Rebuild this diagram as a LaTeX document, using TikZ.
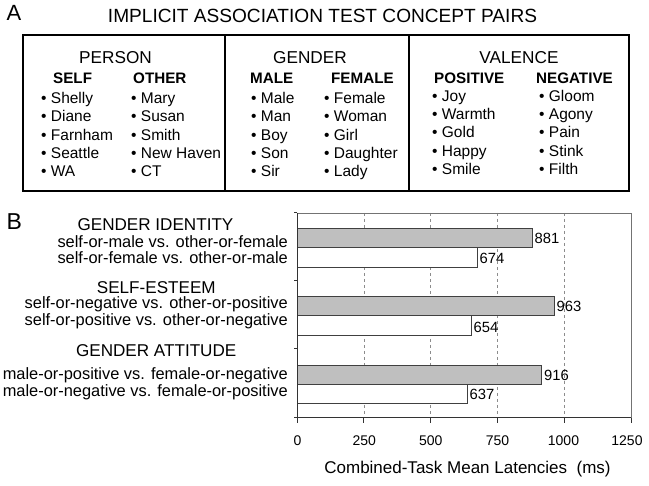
\documentclass[tikz,border=0pt]{standalone}
\usepackage{fontspec}
\setmainfont{Liberation Sans}
\usetikzlibrary{calc}
\def\fsz#1{\fontsize{#1}{#1}\selectfont}
\tikzset{
	txt/.style={inner sep=0pt, anchor=base west},
	ctxt/.style={inner sep=0pt, anchor=base},
	rtxt/.style={inner sep=0pt, anchor=base east},
	catname/.style={ctxt, font=\fsz{17.2}},
	colhead/.style={txt, font=\fsz{15.2}\bfseries},
	item/.style={txt, font=\fsz{15.5}},
	grouptitle/.style={ctxt, font=\fsz{17.1}},
	sublabel/.style={rtxt, font=\fsz{16.4}},
	barval/.style={inner sep=0pt, anchor=west, font=\fsz{14.8}},
	ticklabel/.style={inner sep=0pt, anchor=base, font=\fsz{14}},
	greybar/.style={draw=black!75, line width=0.8pt, fill=black!25},
	whitebar/.style={draw=black!75, line width=0.8pt, fill=white},
}

\begin{document}
\begin{tikzpicture}[x=1pt, y=-1pt]
			%%%%% START %%%%%
			\useasboundingbox (0, 0) rectangle (649, 486);
			
			% panel A
			\node[txt, font=\fsz{22}] (labelA) at (6.5, 21) {A};
			\node[ctxt, font=\fsz{19.1}] (titleA) at (322.5, 22.7) {IMPLICIT ASSOCIATION TEST CONCEPT PAIRS};
			
			\draw[line width=1.3pt] (23, 35) rectangle (629, 191);
			\draw[line width=1.3pt] (225, 35) -- (225, 191);
			\draw[line width=1.3pt] (409, 35) -- (409, 191);
			
			\node[catname] (person) at (115.5, 63.3) {PERSON};
			\node[catname] (gender) at (310, 63.3) {GENDER};
			\node[catname] (valence) at (519, 63.3) {VALENCE};
			
			\node[colhead] (self) at (53, 83.3) {SELF};
			\node[colhead] (other) at (133, 83.3) {OTHER};
			\node[colhead] (male) at (250, 83.3) {MALE};
			\node[colhead] (female) at (331, 83.3) {FEMALE};
			\node[colhead] (positive) at (434, 83.3) {POSITIVE};
			\node[colhead] (negative) at (536, 83.3) {NEGATIVE};
			
			\node[item] (self1) at (41, 104) {\textbullet\ Shelly};
			\node[item] (self2) at (41, 122) {\textbullet\ Diane};
			\node[item] (self3) at (41, 140.3) {\textbullet\ Farnham};
			\node[item] (self4) at (41, 158.5) {\textbullet\ Seattle};
			\node[item] (self5) at (41, 176.8) {\textbullet\ WA};
			
			\node[item] (other1) at (131, 104) {\textbullet\ Mary};
			\node[item] (other2) at (131, 122) {\textbullet\ Susan};
			\node[item] (other3) at (131, 140.3) {\textbullet\ Smith};
			\node[item] (other4) at (131, 158.5) {\textbullet\ New Haven};
			\node[item] (other5) at (131, 176.8) {\textbullet\ CT};
			
			\node[item] (male1) at (251, 104) {\textbullet\ Male};
			\node[item] (male2) at (251, 122) {\textbullet\ Man};
			\node[item] (male3) at (251, 140.3) {\textbullet\ Boy};
			\node[item] (male4) at (251, 158.5) {\textbullet\ Son};
			\node[item] (male5) at (251, 176.8) {\textbullet\ Sir};
			
			\node[item] (female1) at (324, 104) {\textbullet\ Female};
			\node[item] (female2) at (324, 122) {\textbullet\ Woman};
			\node[item] (female3) at (324, 140.3) {\textbullet\ Girl};
			\node[item] (female4) at (324, 158.5) {\textbullet\ Daughter};
			\node[item] (female5) at (324, 176.8) {\textbullet\ Lady};
			
			\node[item] (positive1) at (432, 101.5) {\textbullet\ Joy};
			\node[item] (positive2) at (432, 119.8) {\textbullet\ Warmth};
			\node[item] (positive3) at (432, 138) {\textbullet\ Gold};
			\node[item] (positive4) at (432, 156.5) {\textbullet\ Happy};
			\node[item] (positive5) at (432, 175) {\textbullet\ Smile};
			
			\node[item] (negative1) at (539, 101.5) {\textbullet\ Gloom};
			\node[item] (negative2) at (539, 119.8) {\textbullet\ Agony};
			\node[item] (negative3) at (539, 138) {\textbullet\ Pain};
			\node[item] (negative4) at (539, 156.5) {\textbullet\ Stink};
			\node[item] (negative5) at (539, 175) {\textbullet\ Filth};
			
			% panel B
			\node[txt, font=\fsz{23}] (labelB) at (6.5, 229.3) {B};
			
			\node[grouptitle] (identity) at (155.5, 231) {GENDER IDENTITY};
			\node[sublabel] (identity1) at (288, 247.3) {self-or-male vs. other-or-female};
			\node[sublabel] (identity2) at (288, 264) {self-or-female vs. other-or-male};
			
			\node[grouptitle] (esteem) at (156.3, 293.3) {SELF-ESTEEM};
			\node[sublabel] (esteem1) at (288, 308.5) {self-or-negative vs. other-or-positive};
			\node[sublabel] (esteem2) at (288, 325.5) {self-or-positive vs. other-or-negative};
			
			\node[grouptitle] (attitude) at (156.2, 356.7) {GENDER ATTITUDE};
			\node[sublabel] (attitude1) at (288, 380) {male-or-positive vs. female-or-negative};
			\node[sublabel] (attitude2) at (288, 396.7) {male-or-negative vs. female-or-positive};
			
			% grid
			\draw[line width=0.6pt, color=black!45, dashed] (363.8, 213) -- (363.8, 418);
			\draw[line width=0.6pt, color=black!45, dashed] (430.6, 213) -- (430.6, 418);
			\draw[line width=0.6pt, color=black!45, dashed] (497.4, 213) -- (497.4, 418);
			\draw[line width=0.6pt, color=black!45, dashed] (564.2, 213) -- (564.2, 418);
			\draw[line width=0.8pt, color=black!55] (297, 213) -- (631, 213) -- (631, 418);
			
			% bars
			\draw[greybar] (297, 228) rectangle (532.4, 247.5);
			\draw[whitebar] (297, 247.5) rectangle (477.1, 267);
			\draw[greybar] (297, 296) rectangle (554.3, 315.5);
			\draw[whitebar] (297, 315.5) rectangle (471.8, 335.5);
			\draw[greybar] (297, 365) rectangle (541.8, 384);
			\draw[whitebar] (297, 384) rectangle (467.2, 403);
			
			\node[barval] (v881) at (534.5, 238) {881};
			\node[barval] (v674) at (479.5, 258) {674};
			\node[barval] (v963) at (556.5, 306.5) {963};
			\node[barval] (v654) at (473.5, 327) {654};
			\node[barval] (v916) at (544, 375) {916};
			\node[barval] (v637) at (469.5, 394.5) {637};
			
			% axes
			\draw[line width=1pt, color=black!80] (297, 213) -- (297, 418) -- (631, 418);
			\draw[line width=1pt, color=black!80] (294, 213) -- (297, 213);
			\draw[line width=1pt, color=black!80] (294, 281) -- (297, 281);
			\draw[line width=1pt, color=black!80] (294, 349) -- (297, 349);
			\draw[line width=1pt, color=black!80] (294, 418) -- (297, 418);
			\draw[line width=1pt, color=black!80] (297, 418) -- (297, 423);
			\draw[line width=1pt, color=black!80] (363.8, 418) -- (363.8, 423);
			\draw[line width=1pt, color=black!80] (430.6, 418) -- (430.6, 423);
			\draw[line width=1pt, color=black!80] (497.4, 418) -- (497.4, 423);
			\draw[line width=1pt, color=black!80] (564.2, 418) -- (564.2, 423);
			\draw[line width=1pt, color=black!80] (631, 418) -- (631, 423);
			
			\node[ticklabel] (t0) at (297.5, 446) {0};
			\node[ticklabel] (t250) at (364.2, 446) {250};
			\node[ticklabel] (t500) at (430.8, 446) {500};
			\node[ticklabel] (t750) at (497.5, 446) {750};
			\node[ticklabel] (t1000) at (563.5, 446) {1000};
			\node[ticklabel] (t1250) at (627, 446) {1250};
			
			\node[ctxt, font=\fsz{17}] (xtitle) at (467.5, 473.5) {Combined-Task Mean Latencies\ \ (ms)};
			
			%%%%% END %%%%%
\end{tikzpicture}
\end{document}
